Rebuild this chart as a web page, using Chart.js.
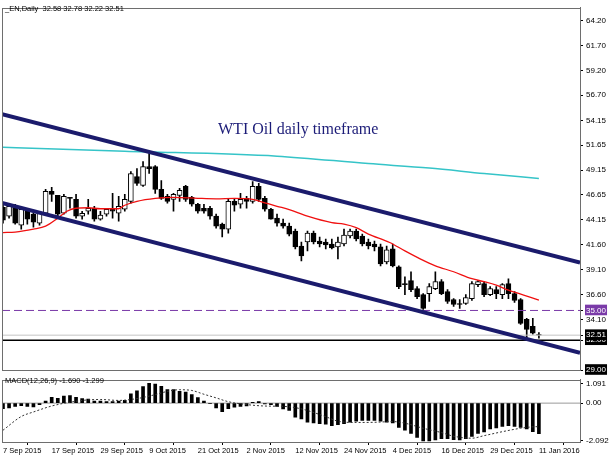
<!DOCTYPE html>
<html>
<head>
<meta charset="utf-8">
<script src="https://cdn.jsdelivr.net/npm/chart.js@4.4.1/dist/chart.umd.min.js"></script>
<style>
  body { margin: 0; background: #fff; width: 610px; height: 457px; overflow: hidden; position: relative; }
  #macd { position: absolute; left: 0; top: 372px; }
  #main { position: absolute; left: 0; top: 0; z-index: 2; }
  .txt { position: absolute; z-index: 3; font: 7.5px "Liberation Sans", Arial, sans-serif; color: #000; white-space: pre; }
  #title { position: absolute; z-index: 3; left: 218px; top: 120px; font: 16px "Liberation Serif", "Times New Roman", serif; color: #1c1c78; white-space: pre; }
</style>
</head>
<body>
<canvas id="macd" width="610" height="85"></canvas>
<canvas id="main" width="610" height="380"></canvas>
<div class="txt" style="left:5px;top:4px">_EN,Daily  32.58 32.78 32.22 32.51</div>
<div class="txt" style="left:5px;top:376px">MACD(12,26,9) -1.690 -1.299</div>
<div id="title">WTI Oil daily timeframe</div>
<script>
// date labels on the time axis and the bar they sit on
const dateLabels = ['7 Sep 2015','17 Sep 2015','29 Sep 2015','9 Oct 2015','21 Oct 2015','2 Nov 2015',
  '12 Nov 2015','24 Nov 2015','4 Dec 2015','16 Dec 2015','29 Dec 2015','11 Jan 2016'];
const dateBars = [0, 8, 16, 24, 32, 40, 48, 56, 64, 72, 80, 88];

// price axis labels and the coloured tags
const priceTicks = [64.2, 61.7, 59.2, 56.7, 54.15, 51.65, 49.15, 46.65, 44.15, 41.6, 39.1, 36.6, 34.1];
const priceTags = [35.0, 32.51, 32.0, 29.0];
const macdTicks = [1.091, 0, -2.092];

// daily candles
const open = [45.4,44.5,45.4,43.6,45.0,44.7,43.8,44.8,47.0,46.6,44.8,46.4,46.2,44.5,45.0,45.3,44.2,44.7,45.2,44.8,
  45.2,46.0,48.5,47.6,49.5,49.5,47.2,46.5,46.2,46.6,47.5,46.4,45.7,45.3,45.3,44.5,43.7,43.2,46.0,45.7,
  46.3,46.0,47.5,46.3,45.2,44.3,43.8,43.5,43.0,41.5,41.9,42.8,42.0,41.9,41.7,41.4,41.7,42.5,43.0,42.5,
  41.9,41.7,41.4,39.9,41.2,39.4,37.7,38.0,37.2,36.6,36.7,37.2,37.9,36.9,36.1,35.7,35.7,36.2,37.6,37.7,
  36.6,37.1,36.6,37.7,36.7,36.1,34.1,33.4,32.58];
const high = [45.8,45.7,45.7,45.4,45.3,44.8,45.0,47.2,47.4,46.6,46.7,46.4,46.7,45.0,46.2,45.5,45.0,45.3,46.8,46.5,
  46.7,49.0,49.3,50.0,50.8,49.6,48.1,46.7,46.8,47.3,47.6,46.5,45.8,45.7,45.5,44.7,43.8,46.3,46.3,46.8,
  46.5,48.0,47.8,46.5,45.3,44.7,44.2,43.8,43.2,41.9,43.0,43.0,42.4,42.2,42.2,42.4,43.2,43.2,43.2,42.7,
  42.2,42.0,41.7,41.5,41.7,39.5,38.4,38.9,37.4,36.7,37.7,38.9,38.1,37.1,36.2,36.1,36.6,37.9,38.0,37.9,
  37.4,37.4,37.7,38.2,36.9,36.2,34.2,34.2,32.78];
const low = [43.8,44.3,43.7,43.2,43.7,43.4,43.6,44.7,46.0,44.5,44.7,45.3,44.3,44.2,44.7,44.0,44.1,44.5,44.3,44.0,
  45.0,45.8,47.6,47.5,48.8,46.8,46.2,45.8,45.0,46.0,46.0,45.5,44.8,44.8,44.2,43.3,42.4,42.8,45.0,45.3,
  45.3,45.8,46.0,45.0,44.2,43.5,43.3,42.5,41.2,40.0,41.0,41.7,41.4,41.2,41.2,40.2,41.5,42.3,42.0,41.5,
  41.2,41.0,39.5,39.7,39.4,37.2,36.6,36.9,36.2,35.1,35.9,37.1,36.6,35.7,35.4,35.2,35.6,36.0,37.4,36.4,
  36.5,36.2,36.2,36.2,35.8,33.6,32.1,32.6,32.22];
const close = [44.1,45.5,43.8,45.2,44.2,43.9,44.8,47.0,46.7,44.7,46.5,46.3,44.5,44.8,45.3,44.2,44.6,45.2,45.0,45.5,
  46.2,48.8,47.8,49.5,49.3,47.2,46.3,46.0,46.7,47.1,46.2,45.7,45.0,45.0,44.5,43.5,43.2,46.0,45.6,46.2,
  46.0,47.5,46.2,45.2,44.2,43.8,43.5,42.7,41.4,40.5,42.8,41.9,41.7,41.6,41.3,41.9,42.6,43.0,42.2,41.7,
  41.5,41.4,39.7,41.1,39.5,37.4,37.6,37.1,36.4,35.2,37.4,37.9,36.7,35.9,35.6,35.6,36.3,37.7,37.9,36.6,
  37.2,36.7,37.6,36.7,36.0,33.7,33.1,32.7,32.51];

// red moving average (bar, value)
const redBars = [0,2,5,7,9,10.5,12,14,16,19,20,22,25,28,32,35,38,41,43,45,47,50,54,56,58,60,63.5,66,68.5,71,74,77,79,81,83,85.5,88];
const redValues = [42.85,42.9,43.2,43.5,44.3,45.0,45.3,45.35,45.25,45.25,45.6,46.0,46.3,46.4,46.3,46.25,46.3,46.2,45.85,45.5,
  45.17,44.5,43.85,43.7,43.35,42.7,41.85,41.0,40.2,39.5,38.9,38.2,37.9,37.55,37.05,36.55,36.05];

// cyan moving average (bar, value)
const cyanBars = [0, 20, 45, 60, 70, 79, 88];
const cyanValues = [51.45, 51.05, 50.55, 49.8, 49.35, 48.8, 48.3];

// channel lines (end points in bars) and horizontal levels
const channelBars = [-0.16, 94.75];
const upperChannel = [54.77, 39.82];
const lowerChannel = [45.83, 30.73];
const levelPurple = 35.0;
const levelBid = 32.51;
const levelBlack = 32.0;

// MACD histogram and signal
const macdMain = [-0.30,-0.26,-0.18,-0.14,-0.18,-0.21,-0.09,0.12,0.32,0.26,0.39,0.42,0.32,0.25,0.23,0.12,0.12,0.09,0.09,0.12,
  0.16,0.51,0.68,0.91,1.09,1.05,0.93,0.75,0.75,0.65,0.61,0.47,0.30,0.12,-0.02,-0.26,-0.47,-0.30,-0.23,-0.18,
  -0.16,0.05,0.09,-0.04,-0.09,-0.18,-0.32,-0.40,-0.77,-0.88,-1.05,-1.09,-1.14,-1.17,-1.25,-1.19,-1.14,-1.05,-1.00,-0.95,
  -0.95,-0.95,-1.00,-1.05,-1.09,-1.34,-1.50,-1.67,-1.89,-2.09,-2.09,-2.04,-1.96,-1.97,-2.02,-2.04,-1.96,-1.84,-1.67,-1.59,
  -1.42,-1.37,-1.29,-1.25,-1.29,-1.34,-1.42,-1.58,-1.69];
const signalBars = [0,3,5,8,11,14,16,19,22,25,27,29,31,33,35,37,40,43,46,48,50,53,55,58,61,64,66,69,72,74,77,79,82,85,87,88];
const signalValues = [-1.5,-0.74,-0.49,-0.16,0.05,0.18,0.20,0.15,0.25,0.47,0.65,0.74,0.70,0.49,0.29,0.08,-0.08,-0.16,-0.18,-0.25,
  -0.41,-0.75,-1.0,-1.07,-1.06,-1.02,-1.11,-1.39,-1.63,-1.83,-1.94,-1.80,-1.58,-1.39,-1.31,-1.30];

const bars = open.map((_, i) => i);
const pts = (xs, ys) => xs.map((x, i) => ({ x: x, y: ys[i] }));
const font = { family: '"Liberation Sans", Arial, sans-serif', size: 8 };

const frame = {
  id: 'frame',
  afterDraw(c) {
    const a = c.chartArea, ctx = c.ctx;
    ctx.save();
    ctx.strokeStyle = '#6e6e6e';
    ctx.lineWidth = 1;
    ctx.strokeRect(Math.round(a.left) + 0.5, Math.round(a.top) + 0.5, Math.round(a.right - a.left), Math.round(a.bottom - a.top));
    ctx.restore();
  }
};

const flat = (y, color, width, dash) => ({
  type: 'line', data: pts(channelBars, [y, y]), borderColor: color, borderWidth: width,
  borderDash: dash || [], pointRadius: 0, clip: 0, order: 4
});

new Chart(document.getElementById('main'), {
  type: 'bar',
  data: {
    datasets: [
      { data: bars.map(i => ({ x: i, y: [low[i], high[i]] })), backgroundColor: '#000', barThickness: 1,
        grouped: false, order: 6 },
      { data: bars.map(i => ({ x: i, y: [open[i], close[i]] })), barThickness: 5, grouped: false, order: 5,
        backgroundColor: bars.map(i => close[i] < open[i] ? '#000' : '#fff'),
        borderColor: '#000', borderWidth: 1, borderSkipped: false },
      flat(levelBid, '#c4c4c4', 1),
      flat(levelBlack, '#000', 1.5),
      flat(levelPurple, '#7a3aa8', 1, [8, 4]),
      { type: 'line', data: pts(cyanBars, cyanValues), borderColor: '#35c4c8', borderWidth: 1.5,
        pointRadius: 0, cubicInterpolationMode: 'monotone', order: 3 },
      { type: 'line', data: pts(redBars, redValues), borderColor: '#f01010', borderWidth: 1.3,
        pointRadius: 0, cubicInterpolationMode: 'monotone', order: 3 },
      { type: 'line', data: pts(channelBars, upperChannel), borderColor: '#1b1b6c', borderWidth: 4,
        pointRadius: 0, clip: 0, order: 2 },
      { type: 'line', data: pts(channelBars, lowerChannel), borderColor: '#1b1b6c', borderWidth: 4,
        pointRadius: 0, clip: 0, order: 2 }
    ]
  },
  options: {
    responsive: false,
    animation: false,
    layout: { padding: { left: 2, top: 2, right: 0, bottom: 10 } },
    plugins: { legend: { display: false }, tooltip: { enabled: false } },
    scales: {
      x: { type: 'linear', min: -0.16, max: 94.75, display: false, offset: false },
      y: {
        position: 'right', min: 29, max: 65.5,
        afterBuildTicks: s => { s.ticks = priceTicks.concat(priceTags).sort((a, b) => a - b).map(v => ({ value: v })); },
        afterFit: s => { s.width = 30; },
        grid: { drawOnChartArea: false, tickLength: 3, color: '#000' },
        border: { color: '#6e6e6e' },
        ticks: {
          font, padding: 3, autoSkip: false,
          color: ctx => priceTags.includes(ctx.tick.value) ? '#fff' : '#000',
          showLabelBackdrop: ctx => priceTags.includes(ctx.tick.value),
          backdropColor: ctx => ctx.tick.value === levelPurple ? '#7a3aa8' : '#000',
          backdropPadding: { top: 1, bottom: 0, left: 1, right: 1 },
          callback: v => v.toFixed(2)
        }
      }
    }
  },
  plugins: [frame]
});

new Chart(document.getElementById('macd'), {
  type: 'bar',
  data: {
    datasets: [
      { type: 'line', data: pts(channelBars, [0, 0]), borderColor: '#9a9a9a', borderWidth: 1, pointRadius: 0, order: 3 },
      { data: bars.map(i => ({ x: i, y: macdMain[i] })), backgroundColor: '#000', barThickness: 3, grouped: false, order: 2 },
      { type: 'line', data: pts(signalBars, signalValues), borderColor: '#333', borderWidth: 1, borderDash: [2, 2],
        pointRadius: 0, cubicInterpolationMode: 'monotone', order: 1 }
    ]
  },
  options: {
    responsive: false,
    animation: false,
    layout: { padding: { left: 2, top: 1, right: 0, bottom: 0 } },
    plugins: { legend: { display: false }, tooltip: { enabled: false } },
    scales: {
      x: {
        type: 'linear', min: -0.16, max: 94.75, offset: false,
        afterBuildTicks: s => { s.ticks = dateBars.map(v => ({ value: v })); },
        afterFit: s => { s.height = 15; },
        grid: { drawOnChartArea: false, tickLength: 3, color: '#000' },
        border: { color: '#6e6e6e' },
        ticks: { font: { family: font.family, size: 7.5 }, color: '#000', align: 'start', maxRotation: 0, autoSkip: false, padding: 1,
          callback: v => dateLabels[dateBars.indexOf(v)] }
      },
      y: {
        position: 'right', min: -2.15, max: 1.29,
        afterBuildTicks: s => { s.ticks = macdTicks.slice().sort((a, b) => a - b).map(v => ({ value: v })); },
        afterFit: s => { s.width = 30; },
        grid: { drawOnChartArea: false, tickLength: 3, color: '#000' },
        border: { color: '#6e6e6e' },
        ticks: { font, color: '#000', padding: 3, autoSkip: false,
          callback: v => v === 0 ? '0.00' : v.toFixed(3) }
      }
    }
  },
  plugins: [frame]
});
</script>
</body>
</html>
